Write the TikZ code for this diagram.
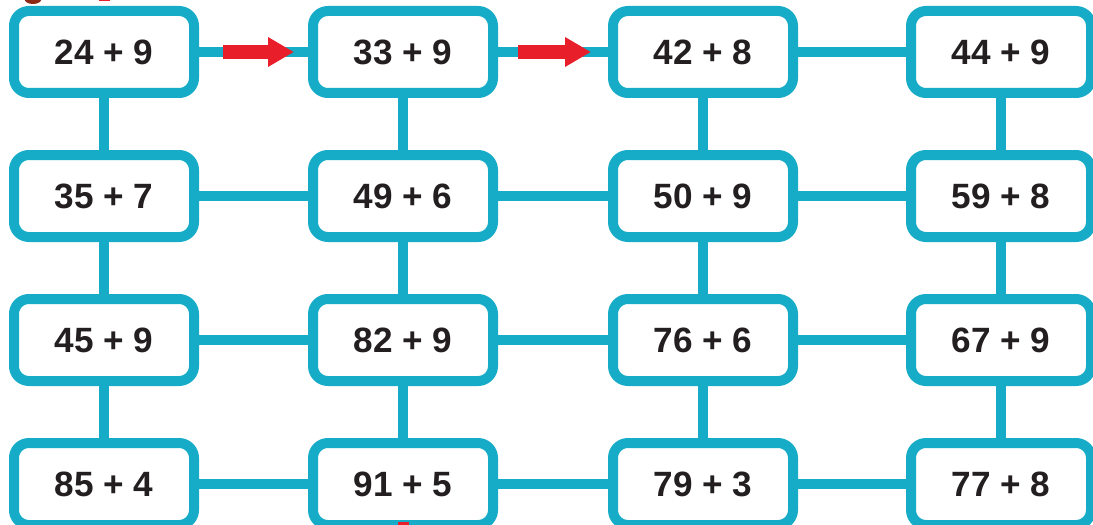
\documentclass[tikz,border=0pt]{standalone}
\usepackage{fontspec}
\setmainfont{Liberation Sans}
\usetikzlibrary{arrows.meta, positioning, calc}
\definecolor{ctcyan}{RGB}{22, 172, 200}
\definecolor{ctred}{RGB}{232, 30, 42}
\definecolor{ctbrown}{RGB}{140, 40, 20}
\definecolor{ctink}{RGB}{35, 31, 32}

\begin{document}
\begin{tikzpicture}[
                phep/.style={
                    rectangle,
                    rounded corners=8.5pt,
                    draw=ctcyan,
                    line width=0.2cm,
                    fill=white,
                    minimum width=3.6cm,
                    minimum height=1.64cm,
                    font=\fontsize{20}{24}\selectfont\bfseries,
                    text=ctink
                },
                noi/.style={draw=ctcyan, line width=0.2cm},
                muiten/.style={draw=ctred, line width=0.28cm, -{Triangle[length=0.52cm, width=0.56cm]}},
                vet/.style={draw=ctred, line width=0.22cm}
            ]
                \useasboundingbox (0,0) rectangle (21.86,-10.48);
                \clip (0,0) rectangle (21.86,-10.48);
                \fill[ctbrown] (0.66,0.02) ellipse (0.17 and 0.1);
                \node[phep] (a1) at (2.08,-1.04) {24 + 9};
                \node[phep] (a2) at (8.06,-1.04) {33 + 9};
                \node[phep] (a3) at (14.06,-1.04) {42 + 8};
                \node[phep] (a4) at (20.02,-1.04) {44 + 9};
                \node[phep] (b1) at (2.08,-3.92) {35 + 7};
                \node[phep] (b2) at (8.06,-3.92) {49 + 6};
                \node[phep] (b3) at (14.06,-3.92) {50 + 9};
                \node[phep] (b4) at (20.02,-3.92) {59 + 8};
                \node[phep] (c1) at (2.08,-6.8) {45 + 9};
                \node[phep] (c2) at (8.06,-6.8) {82 + 9};
                \node[phep] (c3) at (14.06,-6.8) {76 + 6};
                \node[phep] (c4) at (20.02,-6.8) {67 + 9};
                \node[phep] (d1) at (2.08,-9.68) {85 + 4};
                \node[phep] (d2) at (8.06,-9.68) {91 + 5};
                \node[phep] (d3) at (14.06,-9.68) {79 + 3};
                \node[phep] (d4) at (20.02,-9.68) {77 + 8};
                % duong noi
                \draw[noi] (a1) -- (a2) -- (a3) -- (a4);
                \draw[noi] (b1) -- (b2) -- (b3) -- (b4);
                \draw[noi] (c1) -- (c2) -- (c3) -- (c4);
                \draw[noi] (d1) -- (d2) -- (d3) -- (d4);
                \draw[noi] (a1) -- (b1) -- (c1) -- (d1);
                \draw[noi] (a2) -- (b2) -- (c2) -- (d2);
                \draw[noi] (a3) -- (b3) -- (c3) -- (d3);
                \draw[noi] (a4) -- (b4) -- (c4) -- (d4);
                % loi di
                \coordinate (vao) at (2.08,0.3);
                \coordinate (ra) at (8.06,-11);
                \draw[vet] (vao) -- ([yshift=0.1cm]a1.north);
                \draw[vet] ([yshift=0.16cm]d2.south) -- (ra);
                \draw[muiten] ([xshift=0.48cm]a1.east) -- ([xshift=-0.28cm]a2.west);
                \draw[muiten] ([xshift=0.4cm]a2.east) -- ([xshift=-0.34cm]a3.west);
            \end{tikzpicture}
\end{document}
